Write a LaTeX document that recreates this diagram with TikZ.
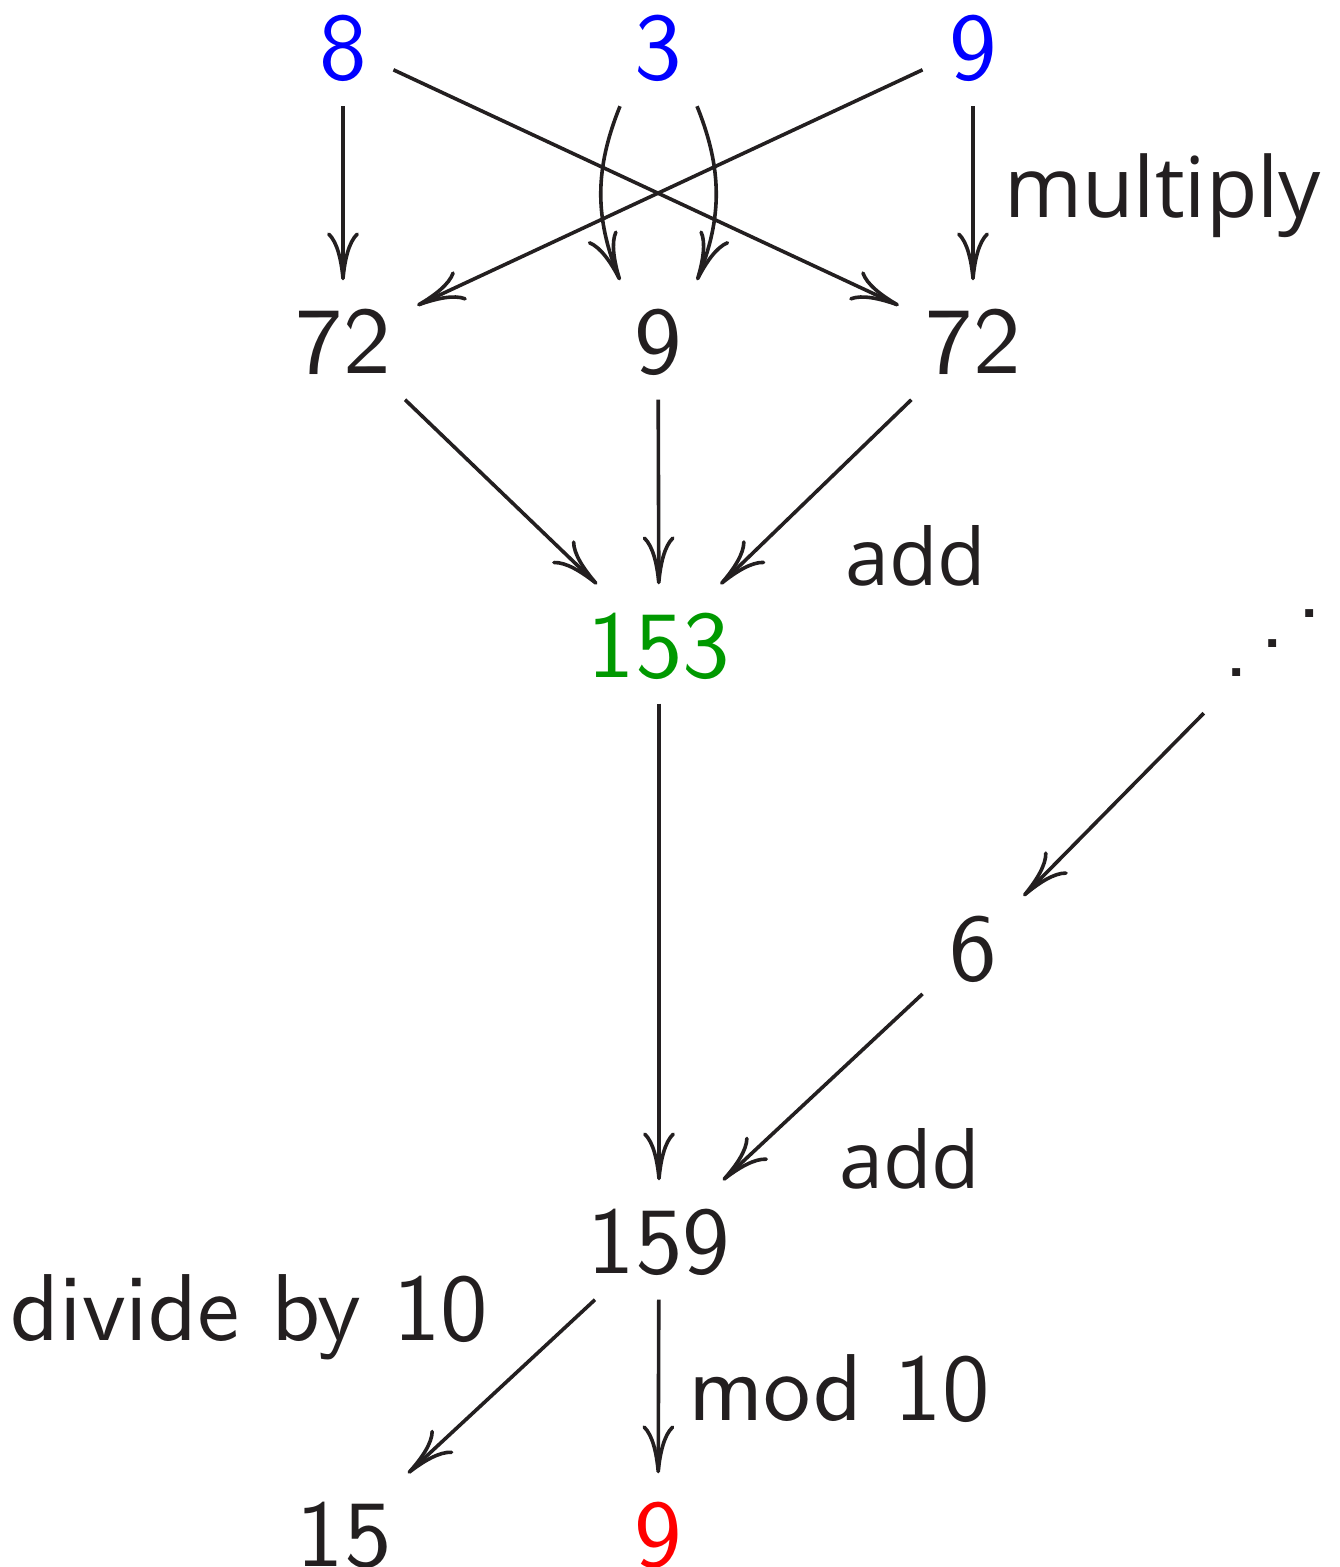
\documentclass[tikz,border=0pt]{standalone}
\usepackage{fontspec}
\newfontfamily\opensans{Open Sans}
\newfontfamily\lmsten[Extension=.otf]{lmsans10-regular}
\usetikzlibrary{arrows.meta}
\definecolor{ink}{RGB}{35,31,32}
\definecolor{myblue}{RGB}{0,0,255}
\definecolor{mygreen}{RGB}{0,153,0}
\definecolor{myred}{RGB}{255,0,0}
\tikzset{
  num/.style={font=\lmsten\fontsize{95}{114}\selectfont, text=ink, text height=66pt, text depth=0pt, inner xsep=26.5pt, inner ysep=26.5pt},
  lab/.style={font=\lmsten\fontsize{95}{114}\selectfont, text=ink, inner sep=0pt, anchor=base west},
  oplab/.style={font=\opensans\fontsize{84}{100}\selectfont, text=ink, inner sep=0pt, anchor=base west},
  addlab/.style={font=\opensans\fontsize{79}{95}\selectfont, text=ink, inner sep=0pt, anchor=base west},
  arr/.style={draw=ink, line width=3.6pt, -{Computer Modern Rightarrow[length=48pt,width=32pt]}}
}
\begin{document}
\begin{tikzpicture}[x=1pt,y=-1pt]
\useasboundingbox (0,0) rectangle (1340,1567);
% row 0
\node[num, text=myblue] (t8) at (343,46.5) {8};
\node[num, text=myblue] (t3) at (658,46.5) {3};
\node[num, text=myblue] (t9) at (973,46.5) {9};
% row 1
\node[num] (m72a) at (343,340) {72};
\node[num] (m9) at (658,340) {9};
\node[num] (m72b) at (973,340) {72};
% row 2
\node[num, text=mygreen] (s153) at (659,644) {153};
\node[inner sep=0pt, minimum size=140pt, text=ink, font=\lmsten\fontsize{95}{114}\selectfont] (dots) at (1273,643)
  {\smash{\makebox[0pt]{\raisebox{-33.5pt}{.}\kern10pt\raisebox{-4pt}{.}\kern10pt\raisebox{25.5pt}{.}}}};
% row 3
\node[num] (n6) at (973,947) {6};
% row 4
\node[num] (n159) at (659,1240) {159};
% row 5
\node[num] (b15) at (344,1533) {15};
\node[num, text=myred] (b9) at (658,1533) {9};
% labels
\node[oplab] (lmul) at (1004,217) {multiply};
\node[addlab] (ladd1) at (845,585) {add};
\node[addlab] (ladd2) at (839,1188) {add};
\node[lab] (ldiv) at (10,1340) {divide by 10};
\node[lab] (lmod) at (688,1420) {mod 10};
% arrows
\draw[arr] (t8) -- (m72a);
\draw[arr] (t8) -- (m72b);
\draw[arr] (t9) -- (m72a);
\draw[arr] (t9) -- (m72b);
\draw[arr] ([xshift=-38pt]t3.south) to[bend right=22] ([xshift=-38pt]m9.north);
\draw[arr] ([xshift=39pt]t3.south) to[bend left=22] ([xshift=39pt]m9.north);
\draw[arr] (m72a) -- (s153);
\draw[arr] (m9) -- (s153);
\draw[arr] (m72b) -- (s153);
\draw[arr] (s153) -- (n159);
\draw[arr] (dots) -- (n6);
\draw[arr] (n6) -- (n159);
\draw[arr] (n159) -- (b15);
\draw[arr] (n159) -- (b9);
\end{tikzpicture}
\end{document}
